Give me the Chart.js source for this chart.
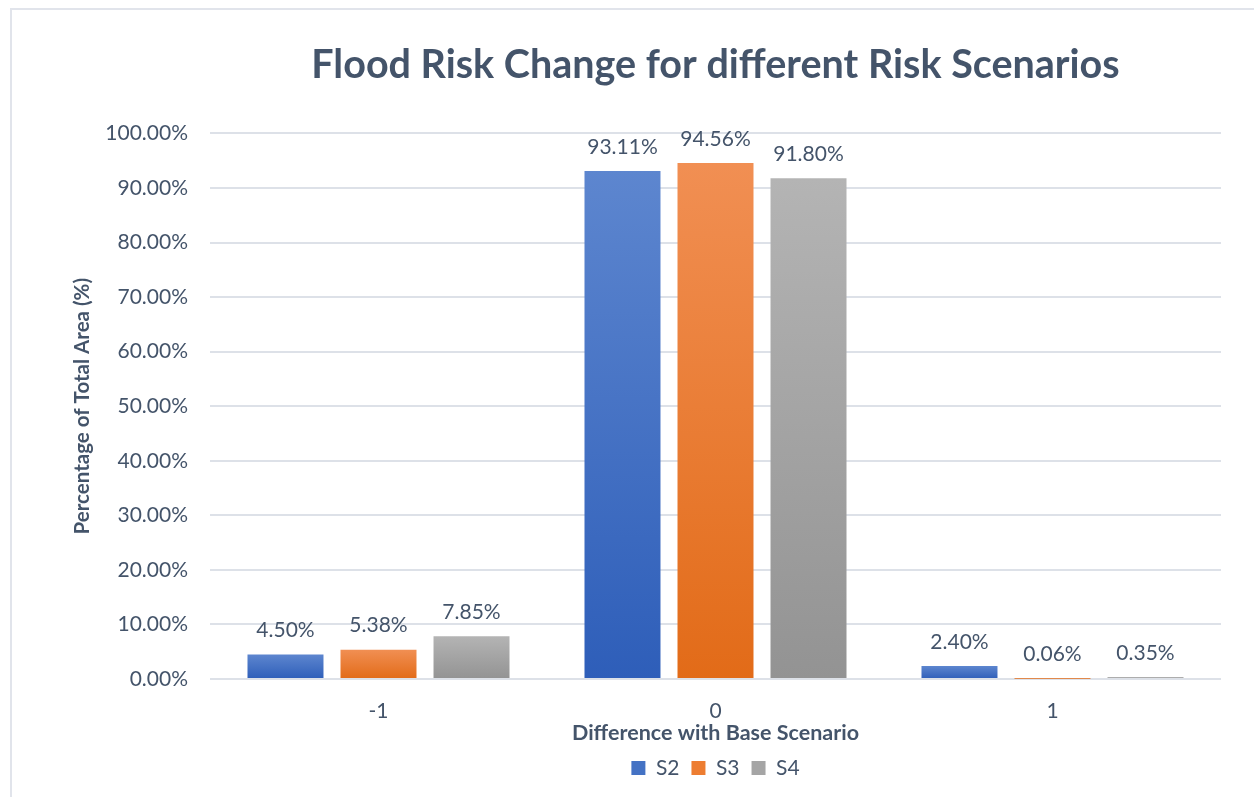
<!DOCTYPE html>
<html>
<head>
<meta charset="utf-8">
<script src="https://cdn.jsdelivr.net/npm/chart.js@4"></script>
<style>
  html, body { margin: 0; padding: 0; background: #fff; }
  #wrap { position: absolute; left: 0; top: 0; width: 1254px; height: 797px; }
  #frame { position: absolute; left: 10px; top: 8px; right: 0; bottom: 0;
           border-left: 2px solid #e1e4eb; border-top: 2px solid #e1e4eb; }
  canvas { position: absolute; left: 0; top: 0; }
</style>
</head>
<body>
<div id="wrap">
  <div id="frame"></div>
  <canvas id="chart" width="1254" height="797"></canvas>
</div>
<script>
const categories = ['-1', '0', '1'];
const s2Values = [4.50, 93.11, 2.40];
const s3Values = [5.38, 94.56, 0.06];
const s4Values = [7.85, 91.80, 0.35];

const textColor = '#44546a';
const fontFamily = 'Lato, "Open Sans", sans-serif';

// vertical gradient per bar, light at the top and darker at the base
function barGradient(top, bottom) {
    return (c) => {
        const chart = c.chart;
        const y = chart.scales.y;
        if (!y || !chart.chartArea || c.raw == null) return bottom;
        const yTop = y.getPixelForValue(c.raw);
        const yBase = y.getPixelForValue(0);
        if (yBase - yTop < 1) return bottom;
        const g = chart.ctx.createLinearGradient(0, yTop, 0, yBase);
        g.addColorStop(0, top);
        g.addColorStop(1, bottom);
        return g;
    };
}

const valueLabels = {
    id: 'valueLabels',
    afterDatasetsDraw(chart) {
        const ctx = chart.ctx;
        ctx.save();
        ctx.font = '21px ' + fontFamily;
        ctx.fillStyle = textColor;
        ctx.textAlign = 'center';
        ctx.textBaseline = 'middle';
        chart.data.datasets.forEach((ds, i) => {
            chart.getDatasetMeta(i).data.forEach((bar, j) => {
                ctx.fillText(ds.data[j].toFixed(2) + '%', bar.x, bar.y - 24);
            });
        });
        ctx.restore();
    }
};

const legendColors = ['#4472c4', '#ed7d31', '#a5a5a5'];

new Chart(document.getElementById('chart').getContext('2d'), {
    type: 'bar',
    data: {
        labels: categories,
        datasets: [
            { label: 'S2', data: s2Values, backgroundColor: barGradient('#5d86cf', '#2e5eb9') },
            { label: 'S3', data: s3Values, backgroundColor: barGradient('#f18f53', '#e26b18') },
            { label: 'S4', data: s4Values, backgroundColor: barGradient('#b4b4b4', '#939393') }
        ]
    },
    options: {
        responsive: false,
        animation: false,
        layout: { padding: { left: 0, right: 33, top: 42, bottom: 8.5 } },
        datasets: { bar: { categoryPercentage: 0.828, barPercentage: 0.817 } },
        plugins: {
            title: {
                display: true,
                fullSize: false,
                text: 'Flood Risk Change for different Risk Scenarios',
                color: textColor,
                font: { family: fontFamily, size: 39.5, weight: 'bold' },
                padding: { top: 0, bottom: 44 }
            },
            legend: {
                position: 'bottom',
                fullSize: false,
                labels: {
                    color: textColor,
                    font: { family: fontFamily, size: 21 },
                    boxWidth: 14,
                    boxHeight: 14,
                    padding: 12,
                    generateLabels: (chart) => chart.data.datasets.map((ds, i) => ({
                        text: ds.label,
                        fillStyle: legendColors[i],
                        strokeStyle: legendColors[i],
                        lineWidth: 0,
                        fontColor: textColor,
                        datasetIndex: i
                    }))
                }
            },
            tooltip: { enabled: false }
        },
        scales: {
            x: {
                afterFit: (scale) => { scale.height = 66.5; },
                grid: { display: false, drawTicks: false },
                border: { display: false },
                ticks: { color: textColor, font: { family: fontFamily, size: 21 }, padding: 20 },
                title: {
                    display: true,
                    text: 'Difference with Base Scenario',
                    color: textColor,
                    font: { family: fontFamily, size: 21.5, weight: 'bold' },
                    padding: { top: 0, bottom: 0 }
                }
            },
            y: {
                min: 0,
                max: 100,
                afterFit: (scale) => { scale.width = 210; },
                grid: { color: '#dde1e8', lineWidth: 2, drawTicks: false },
                border: { display: false },
                ticks: {
                    stepSize: 10,
                    color: textColor,
                    font: { family: fontFamily, size: 21 },
                    padding: 22,
                    callback: (v) => v.toFixed(2) + '%'
                },
                title: {
                    display: true,
                    text: 'Percentage of Total Area (%)',
                    color: textColor,
                    font: { family: fontFamily, size: 20.5, weight: 'bold' },
                    padding: { top: 70, bottom: 0 }
                }
            }
        }
    },
    plugins: [valueLabels]
});
</script>
</body>
</html>
